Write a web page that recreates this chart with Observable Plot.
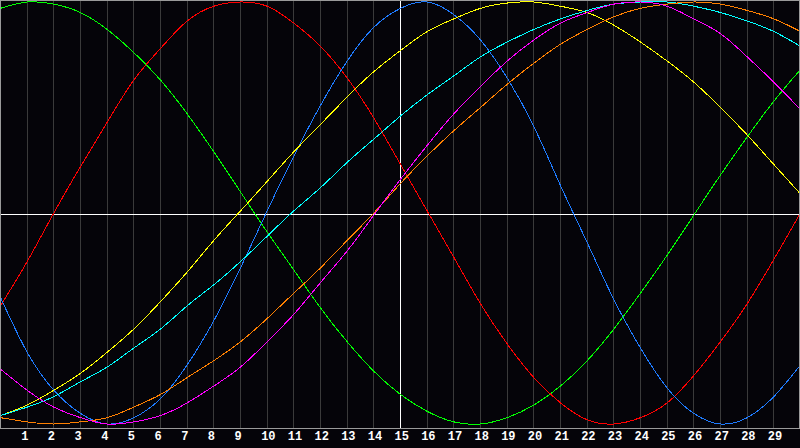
<!DOCTYPE html>
<html><head><meta charset="utf-8">
<script src="https://cdn.jsdelivr.net/npm/d3@7"></script>
<script src="https://cdn.jsdelivr.net/npm/@observablehq/plot@0.6"></script>
<style>html,body{margin:0;padding:0;background:#050409;overflow:hidden;}</style>
</head><body><div id="chart"></div>
<script>
const xs = [0,1,2,3,4,5,6,7,8,9,10,11,12,13,14,15,16,17,18,19,20,21,22,23,24,25,26,27,28,29,30];
const green   = [0.97,1.00,0.99,0.95,0.87,0.76,0.63,0.47,0.29,0.10,-0.09,-0.27,-0.45,-0.61,-0.75,-0.86,-0.94,-0.99,-1.00,-0.97,-0.91,-0.82,-0.70,-0.55,-0.38,-0.20,-0.01,0.18,0.36,0.53,0.68];
const red     = [-0.44,-0.23,0.00,0.22,0.43,0.63,0.78,0.91,0.98,1.00,0.98,0.90,0.79,0.64,0.45,0.23,0.01,-0.21,-0.43,-0.62,-0.78,-0.90,-0.98,-1.00,-0.97,-0.90,-0.77,-0.61,-0.43,-0.22,0.00];
const blue    = [-0.40,-0.66,-0.84,-0.95,-1.00,-0.97,-0.88,-0.72,-0.51,-0.26,0.01,0.27,0.51,0.72,0.88,0.97,1.00,0.94,0.82,0.64,0.41,0.13,-0.14,-0.41,-0.64,-0.83,-0.95,-1.00,-0.97,-0.87,-0.72];
const yellow  = [-0.96,-0.91,-0.84,-0.76,-0.66,-0.55,-0.42,-0.28,-0.13,0.01,0.15,0.29,0.42,0.55,0.67,0.77,0.86,0.92,0.97,0.995,1.00,0.98,0.95,0.89,0.81,0.72,0.62,0.50,0.37,0.23,0.09];
const cyan    = [-0.96,-0.92,-0.87,-0.80,-0.73,-0.64,-0.55,-0.44,-0.34,-0.23,-0.11,0.01,0.12,0.24,0.35,0.46,0.56,0.65,0.74,0.81,0.87,0.92,0.96,0.99,1.00,1.00,0.98,0.95,0.91,0.86,0.79];
const orange  = [-0.97,-0.99,-1.00,-0.99,-0.97,-0.92,-0.86,-0.78,-0.70,-0.61,-0.50,-0.38,-0.26,-0.13,0.00,0.14,0.27,0.39,0.50,0.61,0.71,0.80,0.87,0.93,0.97,0.99,1.00,0.99,0.96,0.92,0.86];
const magenta = [-0.74,-0.84,-0.92,-0.97,-1.00,-0.99,-0.96,-0.90,-0.82,-0.73,-0.61,-0.48,-0.33,-0.18,-0.01,0.16,0.32,0.47,0.60,0.72,0.82,0.90,0.95,0.99,1.00,0.98,0.92,0.85,0.74,0.62,0.49];
const tickLabels = [1,2,3,4,5,6,7,8,9,10,11,12,13,14,15,16,17,18,19,20,21,22,23,24,25,26,27,28,29];
const gridX = [1,2,3,4,5,6,7,8,9,10,11,12,13,14,15,16,17,18,19,20,21,22,23,24,25,26,27,28,29];
const centerX = [15];
const centerY = [0];

const series = [
  {name: "green", values: green},
  {name: "red", values: red},
  {name: "blue", values: blue},
  {name: "yellow", values: yellow},
  {name: "cyan", values: cyan},
  {name: "orange", values: orange},
  {name: "magenta", values: magenta}
];
const colors = {green: "#00ff00", red: "#ff0000", blue: "#1e7bff", yellow: "#ffff00", cyan: "#00ffff", orange: "#ff8000", magenta: "#ff00ff"};

const lineMarks = series.map(s =>
  Plot.line(xs.map((x, i) => ({x, y: s.values[i]})), {
    x: "x", y: "y", stroke: colors[s.name], strokeWidth: 1, curve: "natural", shapeRendering: "crispEdges"
  })
);

const chart = Plot.plot({
  width: 800, height: 448,
  marginTop: 0, marginLeft: 0, marginRight: 0, marginBottom: 20,
  style: {background: "#050409", color: "white"},
  x: {domain: [0, 30], range: [0, 800], axis: null},
  y: {domain: [-1, 1], range: [423.5, 1.5], axis: null},
  marks: [
    Plot.ruleX(gridX, {stroke: "#3a3a3a", shapeRendering: "crispEdges"}),
    Plot.ruleX(centerX, {stroke: "white", shapeRendering: "crispEdges"}),
    Plot.ruleY(centerY, {stroke: "white", dy: 1.5, shapeRendering: "crispEdges"}),
    ...lineMarks,
    Plot.frame({stroke: "#9a9a9a", insetRight: 1, shapeRendering: "crispEdges"}),
    Plot.text(tickLabels, {
      x: d => d, frameAnchor: "bottom", textAnchor: "start", dx: -6, dy: 11.5,
      fill: "white", fontWeight: "bold", fontSize: 12, fontFamily: "Liberation Mono"
    })
  ]
});
document.getElementById("chart").appendChild(chart);
</script>
</body></html>
